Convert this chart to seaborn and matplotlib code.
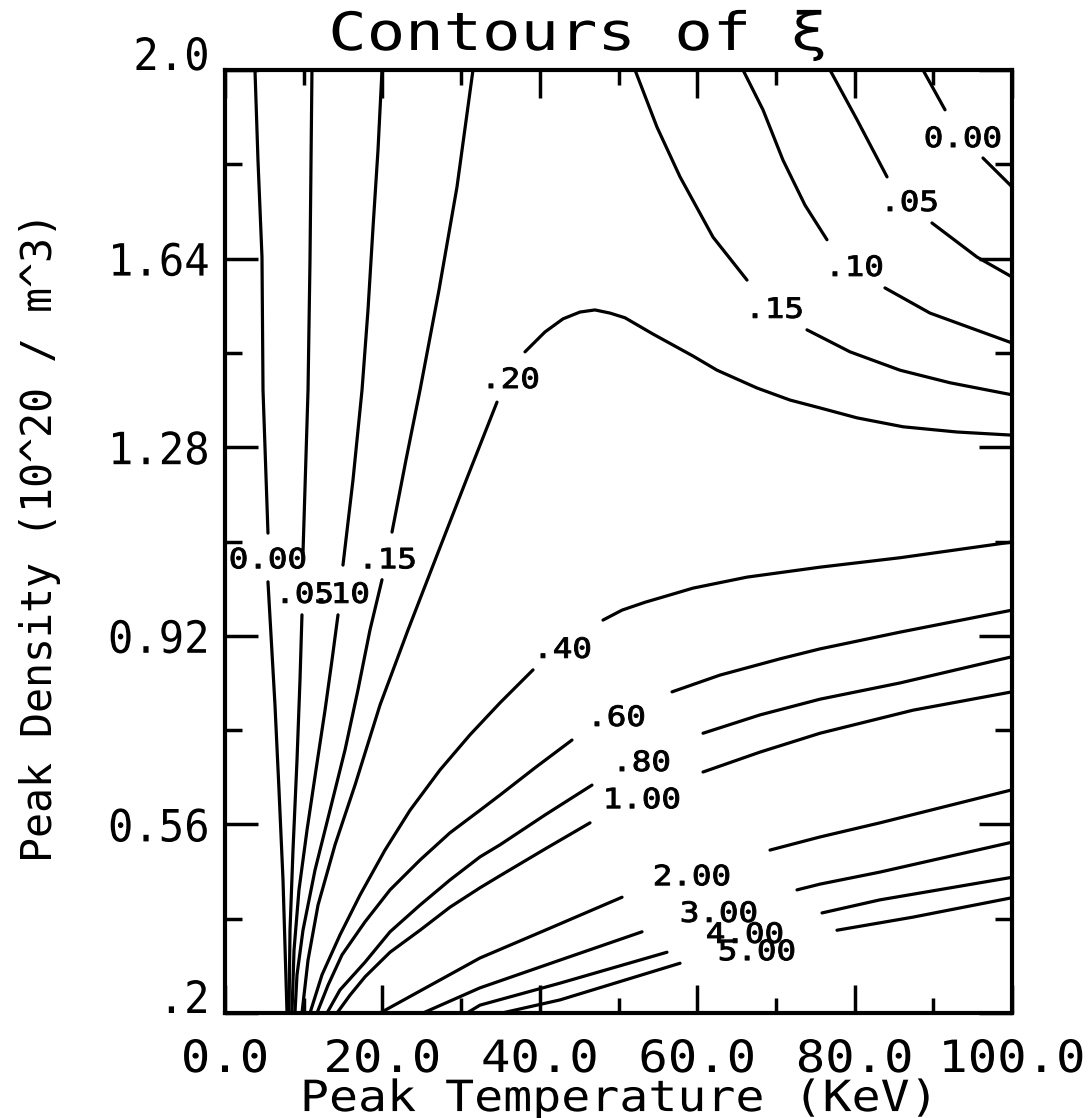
import numpy as np
import pandas as pd
import matplotlib
matplotlib.use("Agg")
import matplotlib.pyplot as plt
import seaborn as sns
from matplotlib.patheffects import AbstractPathEffect
from matplotlib.transforms import Affine2D

# ---------------- data (T in KeV, n in 1e20/m^3) ----------------
# each contour is split where its inline label interrupts it (a = before label, b = after)
xi_000_left_a_T = [3.81, 4.19, 4.70, 4.83, 5.46]
xi_000_left_a_n = [2.000, 1.828, 1.643, 1.389, 1.116]
xi_000_left_b_T = [5.46, 6.35, 6.86, 7.37, 7.88]
xi_000_left_b_n = [1.023, 0.788, 0.626, 0.454, 0.200]

xi_005_left_a_T = [11.05, 10.80, 10.55, 9.91]
xi_005_left_a_n = [2.000, 1.637, 1.389, 1.078]
xi_005_left_b_T = [9.78, 9.53, 9.15, 8.64, 8.26, 8.13]
xi_005_left_b_n = [0.960, 0.836, 0.683, 0.511, 0.358, 0.200]

xi_010_left_a_T = [19.95, 19.44, 18.81, 18.17, 17.41, 16.26, 14.99]
xi_010_left_a_n = [2.000, 1.847, 1.700, 1.542, 1.389, 1.217, 1.055]
xi_010_left_b_T = [14.36, 13.60, 12.71, 11.56, 10.42, 9.40, 8.77, 8.51]
xi_010_left_b_n = [0.960, 0.874, 0.778, 0.664, 0.549, 0.435, 0.320, 0.200]

xi_015_left_a_T = [31.51, 29.48, 27.19, 24.78, 23.00, 21.22]
xi_015_left_a_n = [2.000, 1.777, 1.580, 1.389, 1.256, 1.118]
xi_015_left_b_T = [19.95, 18.42, 16.90, 15.25, 13.34, 11.44, 9.91, 9.15, 8.89]
xi_015_left_b_n = [1.027, 0.931, 0.817, 0.702, 0.587, 0.473, 0.358, 0.273, 0.200]

xi_020_a_T = [9.78, 10.55, 11.82, 13.98, 16.52, 19.70, 23.25, 26.94, 30.75, 34.56]
xi_020_a_n = [0.200, 0.301, 0.406, 0.521, 0.635, 0.788, 0.931, 1.074, 1.221, 1.366]
xi_020_b_T = [38.12, 40.66, 42.95, 45.11, 47.01, 48.92, 50.83, 54.38, 59.47, 62.52, 67.60,
              71.79, 75.60, 80.31, 86.15, 93.01, 100.0]
xi_020_b_n = [1.462, 1.500, 1.525, 1.538, 1.542, 1.536, 1.527, 1.496, 1.454, 1.427, 1.393,
              1.370, 1.355, 1.336, 1.319, 1.309, 1.303]

xi_015_right_a_T = [52.10, 54.89, 57.82, 62.01, 66.33]
xi_015_right_a_n = [2.000, 1.891, 1.796, 1.681, 1.599]
xi_015_right_b_T = [73.95, 79.42, 85.77, 92.12, 100.0]
xi_015_right_b_n = [1.504, 1.462, 1.427, 1.403, 1.380]

xi_010_right_a_T = [65.82, 68.36, 70.90, 73.70, 76.49]
xi_010_right_a_n = [2.000, 1.924, 1.828, 1.742, 1.676]
xi_010_right_b_T = [83.86, 89.58, 100.0]
xi_010_right_b_n = [1.584, 1.536, 1.479]

xi_005_right_a_T = [76.87, 80.31, 84.12]
xi_005_right_a_n = [2.000, 1.905, 1.796]
xi_005_right_b_T = [89.83, 95.55, 100.0]
xi_005_right_b_n = [1.708, 1.643, 1.605]

xi_000_right_a_T = [88.69, 91.49]
xi_000_right_a_n = [2.000, 1.924]
xi_000_right_b_T = [96.31, 100.0]
xi_000_right_b_n = [1.832, 1.777]

xi_040_a_T = [10.80, 12.33, 14.61, 17.15, 20.33, 23.51, 27.32, 31.13, 34.94, 39.14]
xi_040_a_n = [0.200, 0.273, 0.349, 0.425, 0.511, 0.587, 0.664, 0.731, 0.792, 0.855]
xi_040_b_T = [48.03, 50.45, 53.37, 56.54, 59.47, 66.33, 75.60, 85.77, 100.0]
xi_040_b_n = [0.950, 0.969, 0.984, 0.998, 1.011, 1.032, 1.051, 1.069, 1.099]

xi_060_a_T = [11.69, 13.09, 14.87, 17.79, 20.97, 24.78, 28.59, 32.40, 34.94, 39.39, 44.09]
xi_060_a_n = [0.200, 0.253, 0.311, 0.374, 0.435, 0.492, 0.544, 0.587, 0.616, 0.668, 0.721]
xi_060_b_T = [56.80, 62.90, 70.52, 75.60, 85.77, 100.0]
xi_060_b_n = [0.813, 0.845, 0.876, 0.895, 0.927, 0.969]

xi_080_a_T = [12.96, 14.61, 17.79, 20.97, 24.78, 28.59, 32.40, 34.94, 40.66, 46.63]
xi_080_a_n = [0.200, 0.244, 0.297, 0.355, 0.406, 0.454, 0.498, 0.521, 0.578, 0.635]
xi_080_b_T = [60.74, 67.98, 75.60, 85.77, 100.0]
xi_080_b_n = [0.734, 0.769, 0.799, 0.830, 0.880]

xi_100_a_T = [14.23, 15.88, 17.79, 20.97, 24.78, 28.59, 32.40, 34.94, 40.66, 46.38]
xi_100_a_n = [0.200, 0.234, 0.269, 0.316, 0.358, 0.402, 0.439, 0.462, 0.513, 0.563]
xi_100_b_T = [60.74, 67.98, 75.60, 87.42, 100.0]
xi_100_b_n = [0.660, 0.698, 0.734, 0.778, 0.813]

xi_200_a_T = [19.70, 27.32, 32.40, 41.30, 50.45]
xi_200_a_n = [0.200, 0.263, 0.305, 0.362, 0.421]
xi_200_b_T = [69.25, 75.60, 83.23, 100.0]
xi_200_b_n = [0.511, 0.536, 0.563, 0.626]

xi_300_a_T = [25.16, 32.40, 42.57, 52.99]
xi_300_a_n = [0.200, 0.248, 0.301, 0.355]
xi_300_b_T = [72.68, 75.60, 83.23, 100.0]
xi_300_b_n = [0.435, 0.446, 0.469, 0.526]

xi_400_a_T = [30.75, 32.40, 42.57, 56.16]
xi_400_a_n = [0.200, 0.215, 0.257, 0.316]
xi_400_b_T = [75.86, 83.23, 100.0]
xi_400_b_n = [0.391, 0.416, 0.459]

xi_500_a_T = [35.20, 42.57, 57.82]
xi_500_a_n = [0.200, 0.225, 0.295]
xi_500_b_T = [77.76, 87.42, 100.0]
xi_500_b_n = [0.358, 0.383, 0.420]

# inline contour labels
label_text = ["0.00", ".05", ".10", ".15", ".20", ".15", ".10", ".05", "0.00",
              ".40", ".60", ".80", "1.00", "2.00", "3.00", "4.00", "5.00"]
label_T = [5.46, 10.17, 14.74, 20.71, 36.34, 69.89, 80.05, 87.04, 93.77,
           42.95, 49.81, 52.99, 52.99, 59.34, 62.77, 66.07, 67.60]
label_n = [1.070, 1.004, 1.004, 1.070, 1.414, 1.548, 1.628, 1.752, 1.874,
           0.899, 0.769, 0.683, 0.612, 0.465, 0.395, 0.355, 0.322]

# axes ticks
x_major = [0, 20, 40, 60, 80, 100]
x_major_labels = ["0.0", "20.0", "40.0", "60.0", "80.0", "100.0"]
x_minor = [10, 30, 50, 70, 90]
y_major = [0.2, 0.56, 0.92, 1.28, 1.64, 2.0]
y_major_labels = [".2", "0.56", "0.92", "1.28", "1.64", "2.0"]
y_minor = [0.38, 0.74, 1.10, 1.46, 1.82]

title_text = "Contours of ξ"
x_title = "Peak Temperature (KeV)"
y_title = "Peak Density (10^20 / m^3)"

# ---------------- assemble long table ----------------
segments = [
    ("000La", xi_000_left_a_T, xi_000_left_a_n), ("000Lb", xi_000_left_b_T, xi_000_left_b_n),
    ("005La", xi_005_left_a_T, xi_005_left_a_n), ("005Lb", xi_005_left_b_T, xi_005_left_b_n),
    ("010La", xi_010_left_a_T, xi_010_left_a_n), ("010Lb", xi_010_left_b_T, xi_010_left_b_n),
    ("015La", xi_015_left_a_T, xi_015_left_a_n), ("015Lb", xi_015_left_b_T, xi_015_left_b_n),
    ("020a", xi_020_a_T, xi_020_a_n), ("020b", xi_020_b_T, xi_020_b_n),
    ("015Ra", xi_015_right_a_T, xi_015_right_a_n), ("015Rb", xi_015_right_b_T, xi_015_right_b_n),
    ("010Ra", xi_010_right_a_T, xi_010_right_a_n), ("010Rb", xi_010_right_b_T, xi_010_right_b_n),
    ("005Ra", xi_005_right_a_T, xi_005_right_a_n), ("005Rb", xi_005_right_b_T, xi_005_right_b_n),
    ("000Ra", xi_000_right_a_T, xi_000_right_a_n), ("000Rb", xi_000_right_b_T, xi_000_right_b_n),
    ("040a", xi_040_a_T, xi_040_a_n), ("040b", xi_040_b_T, xi_040_b_n),
    ("060a", xi_060_a_T, xi_060_a_n), ("060b", xi_060_b_T, xi_060_b_n),
    ("080a", xi_080_a_T, xi_080_a_n), ("080b", xi_080_b_T, xi_080_b_n),
    ("100a", xi_100_a_T, xi_100_a_n), ("100b", xi_100_b_T, xi_100_b_n),
    ("200a", xi_200_a_T, xi_200_a_n), ("200b", xi_200_b_T, xi_200_b_n),
    ("300a", xi_300_a_T, xi_300_a_n), ("300b", xi_300_b_T, xi_300_b_n),
    ("400a", xi_400_a_T, xi_400_a_n), ("400b", xi_400_b_T, xi_400_b_n),
    ("500a", xi_500_a_T, xi_500_a_n), ("500b", xi_500_b_T, xi_500_b_n),
]
rows = []
for name, ts, ns in segments:
    for i, (t, n) in enumerate(zip(ts, ns)):
        rows.append({"seg": name, "order": i, "T": t, "n": n})
df = pd.DataFrame(rows)


class HStretch(AbstractPathEffect):
    """Stretch glyphs horizontally (plotter-style wide lettering)."""
    def __init__(self, sx, anchor="center", thicken=0.0):
        super().__init__()
        self._sx = sx
        self._anchor = anchor
        self._thicken = thicken

    def draw_path(self, renderer, gc, tpath, affine, rgbFace=None):
        ext = tpath.get_extents()
        if self._anchor == "left":
            cx = ext.x0
        elif self._anchor == "right":
            cx = ext.x1
        else:
            cx = 0.5 * (ext.x0 + ext.x1)
        pre = Affine2D().translate(-cx, 0).scale(self._sx, 1.0).translate(cx, 0)
        if self._thicken > 0:
            gc0 = renderer.new_gc()
            gc0.copy_properties(gc)
            gc0.set_linewidth(self._thicken)
            gc0.set_foreground(rgbFace if rgbFace is not None else "black")
            gc0.set_joinstyle("round")
            renderer.draw_path(gc0, tpath, pre + affine, rgbFace)
            gc0.restore()
        else:
            renderer.draw_path(gc, tpath, pre + affine, rgbFace)


# ---------------- drawing ----------------
sns.set_theme(style="white")
plt.rcParams["font.family"] = ["DejaVu Sans Mono", "DejaVu Sans"]

W, H = 1091, 1118
fig = plt.figure(figsize=(W / 100, H / 100), dpi=100)
fig.patch.set_facecolor("white")
ax = fig.add_axes([225 / W, 1 - 1013 / H, (1012 - 225) / W, (1013 - 70) / H])
ax.set_facecolor("white")

sns.lineplot(data=df, x="T", y="n", units="seg", estimator=None, sort=False,
             color="black", linewidth=2.3, legend=False, ax=ax)

for txt, t, n in zip(label_text, label_T, label_n):
    ax.text(t, n, txt, ha="center", va="center_baseline", fontsize=20, color="black",
            path_effects=[HStretch(1.17, thicken=0.7)])

ax.set_xlim(0, 100)
ax.set_ylim(0.2, 2.0)
ax.set_xticks(x_major)
ax.set_xticklabels(x_major_labels)
ax.set_xticks(x_minor, minor=True)
ax.set_yticks(y_major)
ax.set_yticklabels(y_major_labels)
ax.set_yticks(y_minor, minor=True)
ax.grid(False)

for sp in ax.spines.values():
    sp.set_visible(True)
    sp.set_color("black")
    sp.set_linewidth(3.0)

ax.tick_params(which="both", direction="in", top=True, right=True, bottom=True, left=True,
               color="black", width=2.5)
ax.tick_params(axis="x", which="major", length=20, pad=18, labelsize=32, labelcolor="black")
ax.tick_params(axis="x", which="minor", length=10.5)
ax.tick_params(axis="y", which="major", length=24, pad=11, labelsize=32, labelcolor="black")
ax.tick_params(axis="y", which="minor", length=12.5)

for lab in ax.get_xticklabels():
    lab.set_path_effects([HStretch(1.1)])
ylabs = ax.get_yticklabels()
for lab in ylabs:
    lab.set_path_effects([HStretch(0.95, anchor="right")])
ylabs[0].set_va("baseline")
ylabs[-1].set_va("baseline")

ax.set_xlabel(x_title, fontsize=31, color="black")
ax.xaxis.set_label_coords(0.5, -0.069)
ax.xaxis.label.set_va("top")
ax.xaxis.label.set_path_effects([HStretch(1.12)])

ax.set_ylabel(y_title, fontsize=30, color="black")
ax.yaxis.set_label_coords(-0.235, 0.505)
ax.yaxis.label.set_va("center")

fig.text(578 / W, 1 - 50 / H, title_text, ha="center", va="baseline", fontsize=38,
         color="black", path_effects=[HStretch(1.21)])

fig.savefig("out.png", dpi=100, facecolor="white")
